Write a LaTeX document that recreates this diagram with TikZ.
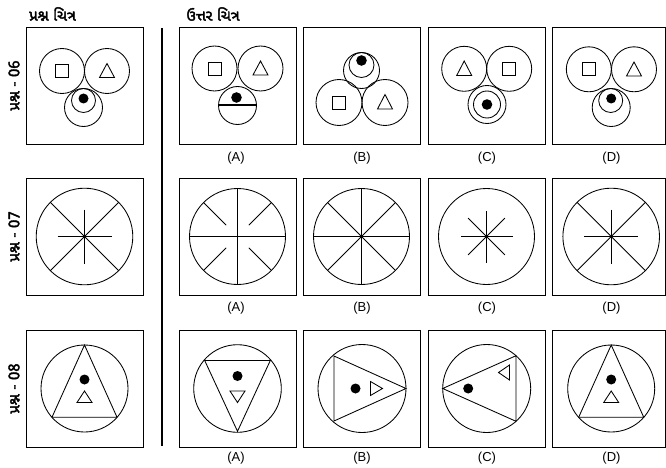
\documentclass[tikz,border=0pt]{standalone}
\usepackage{fontspec}
\setmainfont{Liberation Sans}
\newfontfamily\guj[Script=Gujarati,FakeBold=2.5]{Noto Sans Gujarati UI}
\begin{document}
\begin{tikzpicture}[x=1pt,y=-1pt,
  framebox/.style={draw,line width=0.9pt},
  fig/.style={draw,line width=0.85pt},
  thickline/.style={draw,line width=1.9pt},
  dotfill/.style={fill=black},
  sep/.style={draw,line width=1.7pt},
  lab/.style={font=\fontsize{13}{15}\selectfont,inner sep=0pt},
  head/.style={font=\guj\fontsize{15}{17}\selectfont,inner sep=0pt},
  rowlab/.style={font=\guj\fontsize{15}{17}\selectfont,inner sep=0pt,rotate=90}]
\useasboundingbox (0,0) rectangle (666,468);
\fill[white] (0,0) rectangle (666,468);

% headers
\node[head] (h1) at (52.5,14) {પ્રશ્ન ચિત્ર};
\node[head] (h2) at (213,14) {ઉત્તર ચિત્ર};
\node[rowlab] (r1) at (14,85.5) {પ્રશ્ન - 06};
\node[rowlab] (r2) at (14,236.5) {પ્રશ્ન - 07};
\node[rowlab] (r3) at (14,388.5) {પ્રશ્ન - 08};

% separator
\coordinate (s1) at (162,28);
\coordinate (s2) at (162,446);
\draw[sep] (s1) -- (s2);

% boxes
\foreach \y in {27,178,330}{
  \draw[framebox] (26,\y) rectangle ++(117,117);
  \draw[framebox] (179,\y) rectangle ++(117,117);
  \draw[framebox] (303.5,\y) rectangle ++(117,117);
  \draw[framebox] (428,\y) rectangle ++(117,117);
  \draw[framebox] (552.5,\y) rectangle (665.2,\y+117);
}

% labels
\foreach \y in {158,308,458}{
  \node[lab] at (236,\y) {(A)};
  \node[lab] at (362,\y) {(B)};
  \node[lab] at (487,\y) {(C)};
  \node[lab] at (611.5,\y) {(D)};
}

% ---------- Row 1 ----------
% Question
\begin{scope}[shift={(84.5,85.5)}]
  \draw[fig] (-22.5,-14.5) circle (22.5);
  \draw[fig] (22.5,-14.5) circle (22.5);
  \draw[fig] (-29,-21) rectangle (-16,-8);
  \draw[fig] (22.5,-22) -- (30,-8) -- (15,-8) -- cycle;
  \draw[fig] (-1,22) circle (19);
  \draw[fig] (-1,15) circle (12);
  \fill[dotfill] (-1,13) circle (5);
\end{scope}
% A
\begin{scope}[shift={(237.5,85.5)}]
  \draw[fig] (-23,-17) circle (22.5);
  \draw[fig] (23,-17) circle (22.5);
  \draw[fig] (-29.5,-23.5) rectangle (-16.5,-10.5);
  \draw[fig] (23,-24.5) -- (30.5,-10.5) -- (15.5,-10.5) -- cycle;
  \draw[fig] (0,20) circle (19);
  \draw[thickline] (-19,19.5) -- (19,19.5);
  \fill[dotfill] (-1,12) circle (5.3);
\end{scope}
% B
\begin{scope}[shift={(361.5,85.5)}]
  \draw[fig] (0,-15) circle (18);
  \draw[fig] (0,-20.5) circle (12.5);
  \fill[dotfill] (0,-25) circle (5.3);
  \draw[fig] (-22.5,17) circle (23);
  \draw[fig] (23.5,17) circle (23);
  \draw[fig] (-29,10.5) rectangle (-16,23.5);
  \draw[fig] (23.5,9) -- (31,23.5) -- (16,23.5) -- cycle;
\end{scope}
% C
\begin{scope}[shift={(486.5,85.5)}]
  \draw[fig] (-22.3,-16.7) circle (22.5);
  \draw[fig] (22.7,-16.7) circle (22.5);
  \draw[fig] (-22.3,-24.5) -- (-14.8,-10) -- (-29.8,-10) -- cycle;
  \draw[fig] (16.2,-23.2) rectangle (29.2,-10.2);
  \draw[fig] (0.5,19) circle (19);
  \draw[fig] (0.5,19) circle (13.5);
  \fill[dotfill] (0.5,19) circle (5.3);
\end{scope}
% D
\begin{scope}[shift={(611.2,85.5)}]
  \draw[fig] (-22.4,-16.2) circle (22.5);
  \draw[fig] (22.8,-16.2) circle (22.5);
  \draw[fig] (-28.9,-22.7) rectangle (-15.9,-9.7);
  \draw[fig] (22.8,-23.5) -- (30.3,-9.5) -- (15.3,-9.5) -- cycle;
  \draw[fig] (0,22) circle (19);
  \draw[fig] (-0.5,15) circle (12);
  \fill[dotfill] (0,13) circle (5);
\end{scope}

% ---------- Row 2 ----------
\foreach \cx in {84.5,611.2}{
\begin{scope}[shift={(\cx,236.5)}]
  \draw[fig] (0,0) circle (48.3);
  \draw[fig] (-34.15,-34.15) -- (34.15,34.15);
  \draw[fig] (-34.15,34.15) -- (34.15,-34.15);
  \draw[fig] (-27,0) -- (27,0);
  \draw[fig] (0,-27) -- (0,27);
  \fill[dotfill] (0,0) circle (1.3);
\end{scope}}
% A
\begin{scope}[shift={(237.5,236.5)}]
  \draw[fig] (0,0) circle (48);
  \draw[fig] (-48,0) -- (48,0);
  \draw[fig] (0,-48) -- (0,48);
  \foreach \a in {45,135,225,315}{
    \draw[fig] (\a:16) -- (\a:48);}
\end{scope}
% B
\begin{scope}[shift={(361.5,236.5)}]
  \draw[fig] (0,0) circle (48);
  \foreach \a in {0,45,90,135}{
    \draw[fig] (\a:48) -- (\a+180:48);}
  \fill[dotfill] (0,0) circle (1.4);
\end{scope}
% C
\begin{scope}[shift={(486.5,236.5)}]
  \draw[fig] (0,0) circle (48);
  \foreach \a in {0,45,90,135}{
    \draw[fig] (\a:26) -- (\a+180:26);}
  \fill[dotfill] (0,0) circle (1.3);
\end{scope}

% ---------- Row 3 ----------
\foreach \cx in {84.5,611.2}{
\begin{scope}[shift={(\cx,388.5)}]
  \draw[fig] (0,0) circle (43.5);
  \draw[fig] (0,-43.5) -- (32.5,28.7) -- (-32.5,28.7) -- cycle;
  \fill[dotfill] (0,-9) circle (5);
  \draw[fig] (0,2.5) -- (7.5,14) -- (-7.5,14) -- cycle;
\end{scope}}
% A
\begin{scope}[shift={(237.5,388.5)}]
  \draw[fig] (0,0) circle (43.8);
  \draw[fig] (0,42.8) -- (32.8,-28) -- (-32.8,-28) -- cycle;
  \fill[dotfill] (0,-12.5) circle (5);
  \draw[fig] (0,14) -- (7.5,2.5) -- (-7.5,2.5) -- cycle;
\end{scope}
% B
\begin{scope}[shift={(362,388.5)}]
  \draw[fig] (0,0) circle (44);
  \draw[fig] (44,0) -- (-28,-32.5) -- (-28,32.5) -- cycle;
  \fill[dotfill] (-6.5,0) circle (5);
  \draw[fig] (20.5,0) -- (8.5,-7) -- (8.5,7) -- cycle;
\end{scope}
% C
\begin{scope}[shift={(486.7,388.5)}]
  \draw[fig] (0,0) circle (44);
  \draw[fig] (-44,0) -- (29.3,-32.8) -- (29.3,32.8) -- cycle;
  \fill[dotfill] (-18.5,0) circle (5);
  \draw[fig] (11.8,-16) -- (22.8,-23.5) -- (22.8,-8.5) -- cycle;
\end{scope}
\end{tikzpicture}
\end{document}
